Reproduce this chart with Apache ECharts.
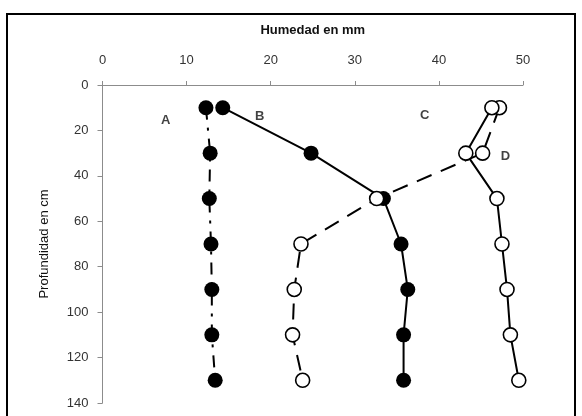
<!DOCTYPE html>
<html>
<head>
<meta charset="utf-8">
<script src="https://cdn.jsdelivr.net/npm/echarts@6/dist/echarts.min.js"></script>
<style>
    html, body { margin: 0; padding: 0; background: #fff; }
    #chart { width: 582px; height: 416px; }
</style>
</head>
<body>
<div id="chart"></div>
<script>
    // profundidad (cm) de cada lectura
    var depths = [10, 30, 50, 70, 90, 110, 130];
    // humedad (mm) por perfil
    var serieA = [12.3, 12.8, 12.7, 12.9, 13.0, 13.0, 13.4];
    var serieB = [14.3, 24.8, 33.4, 35.5, 36.3, 35.8, 35.8];
    var serieC = [47.2, 45.2, 32.6, 23.6, 22.8, 22.6, 23.8];
    var serieD = [46.3, 43.2, 46.9, 47.5, 48.1, 48.5, 49.5];
    var xTicks = [0, 10, 20, 30, 40, 50];
    var yTicks = [0, 20, 40, 60, 80, 100, 120, 140];
    // etiquetas de las curvas [humedad, profundidad, texto]
    var curveLabels = [[7.5, 15.4, 'A'], [18.7, 14, 'B'], [38.3, 13.2, 'C'], [47.9, 31.3, 'D']];

    var pairs = function (values) {
        return values.map(function (v, i) { return [v, depths[i]]; });
    };

    var chartDom = document.getElementById('chart');
    var myChart = echarts.init(chartDom);

    var txt = { color: '#333', fontSize: 13, fontFamily: 'Liberation Sans, Arial, sans-serif' };
    var axisGray = '#8c8c8c';

    var blackDot = {
        symbol: 'circle', symbolSize: 15,
        itemStyle: { color: '#000', borderColor: '#000', borderWidth: 0 }
    };
    var whiteDot = {
        symbol: 'circle', symbolSize: 14,
        itemStyle: { color: '#fff', borderColor: '#000', borderWidth: 1.6 }
    };

    var option = {
        animation: false,
        backgroundColor: '#fff',
        grid: { left: 102.5, right: 59, top: 85, bottom: 13 },
        graphic: [{
            type: 'rect',
            shape: { x: 7, y: 14, width: 568, height: 420 },
            style: { fill: 'none', stroke: '#000', lineWidth: 2 },
            silent: true
        }],
        xAxis: {
            type: 'value', position: 'top',
            min: xTicks[0], max: xTicks[xTicks.length - 1], interval: 10,
            name: 'Humedad en mm', nameLocation: 'middle', nameGap: 48,
            nameTextStyle: { color: '#111', fontSize: 13, fontWeight: 'bold', fontFamily: txt.fontFamily },
            axisLine: { show: true, lineStyle: { color: axisGray, width: 1 } },
            axisTick: { show: true, inside: false, length: 4, lineStyle: { color: axisGray } },
            axisLabel: Object.assign({ margin: 18 }, txt),
            splitLine: { show: false }
        },
        yAxis: {
            type: 'value', inverse: true,
            min: yTicks[0], max: yTicks[yTicks.length - 1], interval: 20,
            name: 'Profundidad en cm', nameLocation: 'middle', nameGap: 52,
            nameTextStyle: { color: '#111', fontSize: 13, fontFamily: txt.fontFamily },
            axisLine: { show: true, lineStyle: { color: axisGray, width: 1 } },
            axisTick: { show: true, length: 5, lineStyle: { color: axisGray } },
            axisLabel: Object.assign({ margin: 14 }, txt),
            splitLine: { show: false }
        },
        series: [
            Object.assign({
                name: 'A', type: 'line', data: pairs(serieA),
                lineStyle: { color: '#000', width: 2, type: [12, 8, 3, 8] }
            }, blackDot),
            Object.assign({
                name: 'B', type: 'line', data: pairs(serieB),
                lineStyle: { color: '#000', width: 2, type: 'solid' }
            }, blackDot),
            Object.assign({
                name: 'C', type: 'line', data: pairs(serieC),
                lineStyle: { color: '#000', width: 2, type: [16, 10] }
            }, whiteDot),
            Object.assign({
                name: 'D', type: 'line', data: pairs(serieD),
                lineStyle: { color: '#000', width: 2, type: 'solid' }
            }, whiteDot),
            {
                type: 'scatter', symbolSize: 0,
                data: curveLabels.map(function (l) { return { value: [l[0], l[1]], name: l[2] }; }),
                label: {
                    show: true, position: 'inside', formatter: '{b}',
                    color: '#111', fontSize: 13, fontWeight: 'bold', fontFamily: txt.fontFamily
                }
            }
        ]
    };
    myChart.setOption(option);
</script>
</body>
</html>
